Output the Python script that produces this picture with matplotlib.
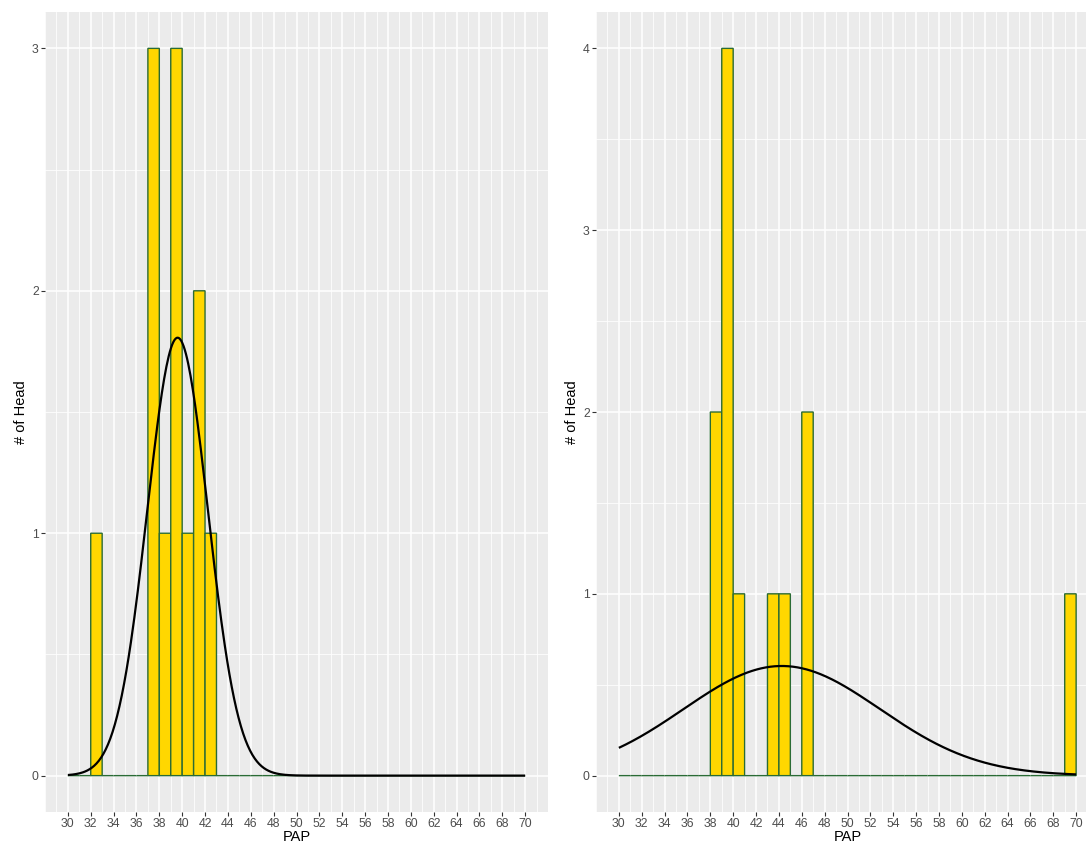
import numpy as np
import matplotlib

matplotlib.use("Agg")
import matplotlib.pyplot as plt
from matplotlib.ticker import MultipleLocator

plt.rcParams["font.family"] = ["Liberation Sans", "DejaVu Sans"]

# histogram bins of width 1 over PAP 30..70; only non-empty bins listed
bin_edges = np.arange(30, 71)
left_bins = [32, 37, 38, 39, 40, 41, 42]
left_counts = [1, 3, 1, 3, 1, 2, 1]
right_bins = [38, 39, 40, 43, 44, 46, 69]
right_counts = [2, 4, 1, 1, 1, 2, 1]

# fitted normal curves (mean, sd, area)
left_fit = (39.6, 2.65, 12.0)
right_fit = (44.25, 8.6, 13.0)

x_ticks = np.arange(30, 71, 2)
FILL, EDGE, PANEL = "#FFD700", "#2A6B35", "#EBEBEB"

W, H = 1086, 846
fig = plt.figure(figsize=(W / 100, H / 100), dpi=100)
fig.patch.set_facecolor("white")


def panel(rect, bins, counts, fit, ymax):
    ax = fig.add_axes(rect)
    ax.set_facecolor(PANEL)
    full = np.zeros(len(bin_edges) - 1)
    full[np.searchsorted(bin_edges, bins)] = counts
    bars = ax.bar(bin_edges[:-1], full, width=1, align="edge", color=FILL,
                  edgecolor=EDGE, linewidth=1.0, zorder=2)
    for b in bars:
        b.set_snap(False)
    mu, sd, area = fit
    xs = np.linspace(bin_edges[0], bin_edges[-1], 400)
    ys = area * np.exp(-0.5 * ((xs - mu) / sd) ** 2) / (sd * np.sqrt(2 * np.pi))
    ax.plot(xs, ys, color="black", lw=1.6, zorder=3, solid_capstyle="butt")

    ax.set_xlim(28, 72)
    ax.set_ylim(-0.05 * ymax, 1.05 * ymax)
    ax.set_xticks(x_ticks)
    ax.xaxis.set_minor_locator(MultipleLocator(1))
    ax.yaxis.set_major_locator(MultipleLocator(1))
    ax.yaxis.set_minor_locator(MultipleLocator(0.5))
    ax.grid(which="major", color="white", lw=1.1, zorder=0)
    ax.grid(which="minor", color="white", lw=0.55, zorder=0)
    ax.set_axisbelow(True)
    for s in ax.spines.values():
        s.set_visible(False)
    ax.tick_params(which="major", length=3, width=0.8, color="#333333",
                   labelsize=8.8, labelcolor="#4D4D4D", pad=1.5)
    ax.tick_params(which="minor", length=0)
    ax.set_xlabel("PAP", fontsize=10.5, labelpad=0)
    ax.set_ylabel("# of Head", fontsize=10.5, labelpad=3)
    return ax


panel([45 / W, 34 / H, 503 / W, 800 / H], left_bins, left_counts, left_fit, 3)
panel([596 / W, 34 / H, 503 / W, 800 / H], right_bins, right_counts, right_fit, 4)

fig.savefig("out.png", dpi=100)
